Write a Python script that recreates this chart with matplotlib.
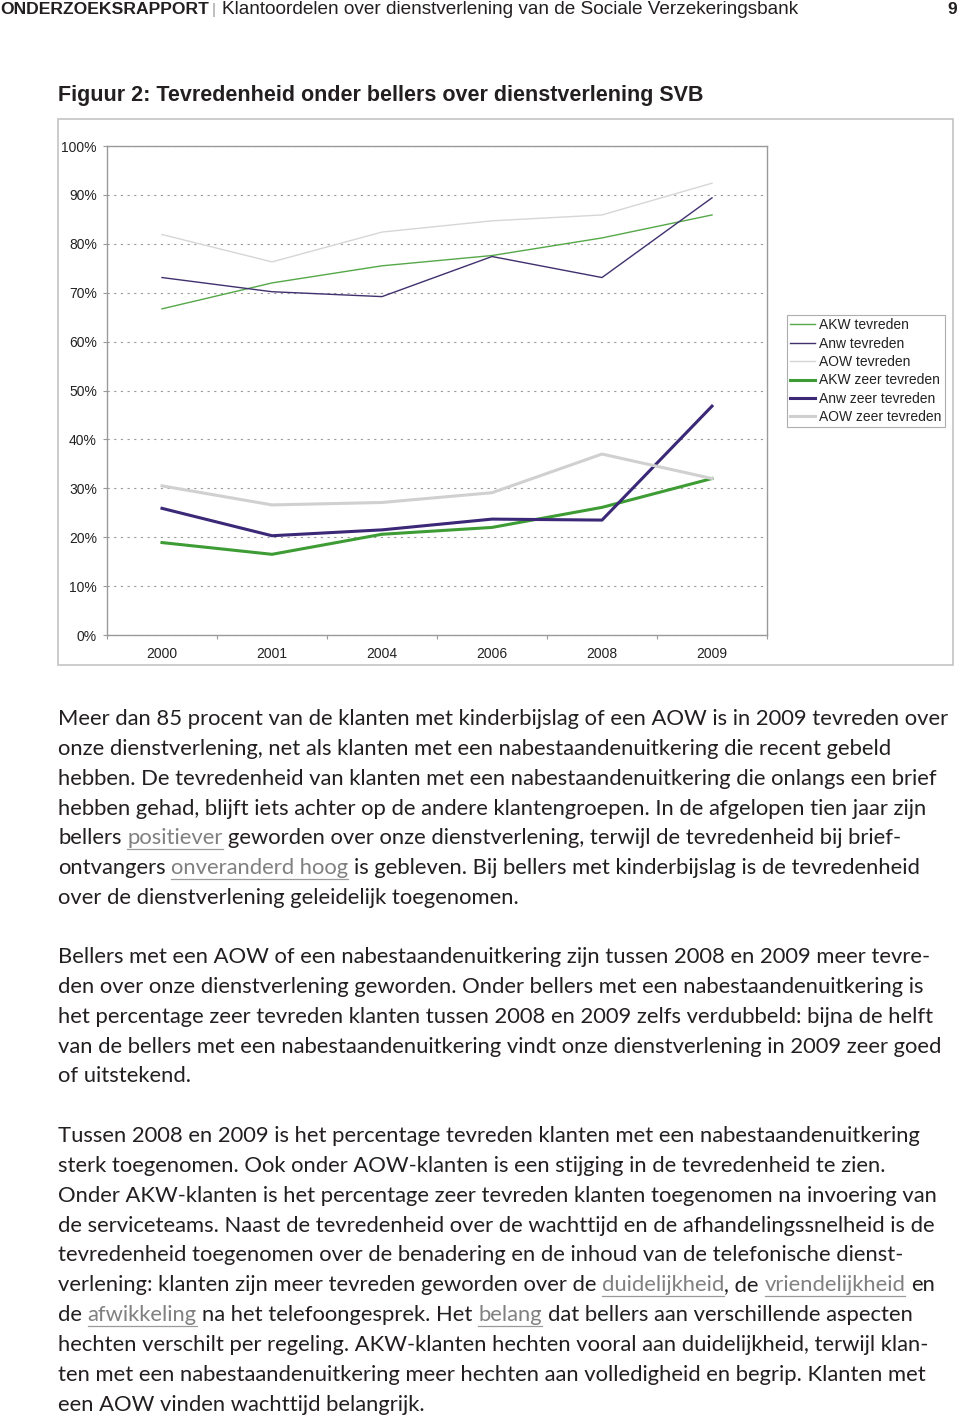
import re
import matplotlib
matplotlib.use('Agg')
import matplotlib.pyplot as plt
from matplotlib.patches import Rectangle
from matplotlib.lines import Line2D
import numpy as np

# ---------------- data ----------------
years = ['2000', '2001', '2004', '2006', '2008', '2009']
akw_tevreden = [66.7, 72.0, 75.5, 77.6, 81.2, 85.9]
anw_tevreden = [73.1, 70.2, 69.2, 77.4, 73.1, 89.4]
aow_tevreden = [81.9, 76.3, 82.4, 84.7, 85.9, 92.4]
akw_zeer_tevreden = [18.9, 16.5, 20.6, 22.0, 26.1, 32.0]
anw_zeer_tevreden = [25.9, 20.3, 21.5, 23.7, 23.5, 46.8]
aow_zeer_tevreden = [30.5, 26.6, 27.1, 29.1, 37.0, 32.0]
series_labels = ['AKW tevreden', 'Anw tevreden', 'AOW tevreden',
                 'AKW zeer tevreden', 'Anw zeer tevreden', 'AOW zeer tevreden']
y_ticks = [0, 10, 20, 30, 40, 50, 60, 70, 80, 90, 100]
y_tick_labels = [f'{v}%' for v in y_ticks]

header_bold = 'ONDERZOEKSRAPPORT'
header_rest = 'Klantoordelen over dienstverlening van de Sociale Verzekeringsbank'
page_number = '9'
figure_title = 'Figuur 2: Tevredenheid onder bellers over dienstverlening SVB'

paragraph1 = [
    'Meer dan 85 procent van de klanten met kinderbijslag of een AOW is in 2009 tevreden over',
    'onze dienstverlening, net als klanten met een nabestaandenuitkering die recent gebeld',
    'hebben. De tevredenheid van klanten met een nabestaandenuitkering die onlangs een brief',
    'hebben gehad, blijft iets achter op de andere klantengroepen. In de afgelopen tien jaar zijn',
    'bellers [positiever] geworden over onze dienstverlening, terwijl de tevredenheid bij brief-',
    'ontvangers [onveranderd hoog] is gebleven. Bij bellers met kinderbijslag is de tevredenheid',
    'over de dienstverlening geleidelijk toegenomen.',
]
paragraph2 = [
    'Bellers met een AOW of een nabestaandenuitkering zijn tussen 2008 en 2009 meer tevre-',
    'den over onze dienstverlening geworden. Onder bellers met een nabestaandenuitkering is',
    'het percentage zeer tevreden klanten tussen 2008 en 2009 zelfs verdubbeld: bijna de helft',
    'van de bellers met een nabestaandenuitkering vindt onze dienstverlening in 2009 zeer goed',
    'of uitstekend.',
]
paragraph3 = [
    'Tussen 2008 en 2009 is het percentage tevreden klanten met een nabestaandenuitkering',
    'sterk toegenomen. Ook onder AOW-klanten is een stijging in de tevredenheid te zien.',
    'Onder AKW-klanten is het percentage zeer tevreden klanten toegenomen na invoering van',
    'de serviceteams. Naast de tevredenheid over de wachttijd en de afhandelingssnelheid is de',
    'tevredenheid toegenomen over de benadering en de inhoud van de telefonische dienst-',
    'verlening: klanten zijn meer tevreden geworden over de [duidelijkheid], de [vriendelijkheid] en',
    'de [afwikkeling] na het telefoongesprek. Het [belang] dat bellers aan verschillende aspecten',
    'hechten verschilt per regeling. AKW-klanten hechten vooral aan duidelijkheid, terwijl klan-',
    'ten met een nabestaandenuitkering meer hechten aan volledigheid en begrip. Klanten met',
    'een AOW vinden wachttijd belangrijk.',
]

# ---------------- figure ----------------
W, H = 960, 1417
fig = plt.figure(figsize=(W / 100, H / 100), dpi=100)
fig.patch.set_facecolor('white')
renderer = fig.canvas.get_renderer()


def fx(x):
    return x / W


def fy(y):
    return 1 - y / H


def put(x, y, s, ha='left', va='center', **kw):
    return fig.text(fx(x), fy(y), s, ha=ha, va=va, **kw)


def width_of(t):
    return t.get_window_extent(renderer=renderer).width


def fit(x, y, s, target_w, ha='left', va='center', **kw):
    t = put(x, y, s, ha=ha, va=va, fontsize=10, **kw)
    w = width_of(t)
    t.set_fontsize(10 * target_w / w)
    return t


NARROW = ['Liberation Sans Narrow', 'Liberation Sans', 'DejaVu Sans']
CHART_FONT = ['Liberation Sans', 'DejaVu Sans']
BODY = dict(family=['Lato', 'DejaVu Sans'], fontweight='normal')
TEXT_COLOR = '#231f20'
LINK_COLOR = '#808080'

# ---- header ----
fit(0, 10, header_bold, 208, family=NARROW, fontweight='bold', color=TEXT_COLOR)
put(214, 10, '|', ha='center', fontsize=11, family=CHART_FONT, color='#9a9a9a')
fit(222, 10, header_rest, 581, family=NARROW, color=TEXT_COLOR)
put(957, 10, page_number, ha='right', fontsize=12.5, family=NARROW, fontweight='bold', color=TEXT_COLOR)

# ---- title ----
fit(58, 96, figure_title, 648, family=NARROW, fontweight='bold', color=TEXT_COLOR)

# ---- outer chart frame ----
fig.add_artist(Rectangle((fx(58), fy(665)), (953 - 58) / W, (665 - 119) / H,
                         transform=fig.transFigure, fill=False,
                         edgecolor='#c4c4c4', lw=1.2))

# ---- chart ----
ax = fig.add_axes([fx(107), fy(635), (767 - 107) / W, (635 - 146) / H])
xs = np.arange(len(years))
thin, thick = 1.0, 2.2
ax.plot(xs, akw_tevreden, color='#55a848', lw=thin, label=series_labels[0])
ax.plot(xs, anw_tevreden, color='#40306e', lw=thin, label=series_labels[1])
ax.plot(xs, aow_tevreden, color='#d6d6d6', lw=thin, label=series_labels[2])
ax.plot(xs, akw_zeer_tevreden, color='#3e9c35', lw=thick, label=series_labels[3])
ax.plot(xs, anw_zeer_tevreden, color='#3b2877', lw=thick, label=series_labels[4])
ax.plot(xs, aow_zeer_tevreden, color='#d0d0d0', lw=thick, label=series_labels[5])

ax.set_xlim(-0.5, len(years) - 0.5)
ax.set_ylim(0, 100)
ax.set_yticks(y_ticks)
ax.set_yticklabels(y_tick_labels, fontsize=10, family=CHART_FONT, color='#222222')
ax.set_xticks(np.arange(-0.5, len(years), 1.0))
ax.set_xticklabels([])
ax.set_xticks(xs, minor=True)
ax.set_xticklabels(years, minor=True, fontsize=10, family=CHART_FONT, color='#222222')
ax.tick_params(axis='y', length=3, width=0.8, color='#999999', pad=4.3)
ax.tick_params(axis='x', which='major', length=3, width=0.8, color='#999999')
ax.tick_params(axis='x', which='minor', length=0, pad=8.8)
ax.grid(axis='y', linestyle=(0, (2, 4)), color='#9a9a9a', lw=0.8, zorder=0)
ax.set_axisbelow(True)
for sp in ax.spines.values():
    sp.set_color('#9a9a9a')
    sp.set_linewidth(1.0)

leg = ax.legend(loc='upper left', bbox_to_anchor=(fx(787), fy(315)),
                bbox_transform=fig.transFigure, frameon=True, fancybox=False,
                edgecolor='#999999', prop={'family': CHART_FONT, 'size': 10},
                handlelength=1.8, handletextpad=0.3, labelspacing=0.32,
                borderpad=0.22, borderaxespad=0)
leg.get_frame().set_linewidth(0.8)
for t in leg.get_texts():
    t.set_color('#222222')

# ---- body text ----
probe = put(58, 719, paragraph1[0], fontsize=10, **BODY)
body_size = 10 * 893 / width_of(probe)
probe.remove()

a = put(0, 0, 'n n', fontsize=body_size, **BODY)
b = put(0, 0, 'nn', fontsize=body_size, **BODY)
space_w = width_of(a) - width_of(b)
a.remove()
b.remove()


def draw_line(x0, y, line):
    x = x0
    for part in re.split(r'(\[[^\]]+\])', line):
        if not part:
            continue
        link = part.startswith('[')
        txt = part.strip('[]')
        lead = len(txt) - len(txt.lstrip(' '))
        trail = len(txt) - len(txt.rstrip(' '))
        core = txt.strip(' ')
        x += lead * space_w
        if core:
            t = put(x, y, core, fontsize=body_size,
                    color=LINK_COLOR if link else TEXT_COLOR, **BODY)
            bb = t.get_window_extent(renderer=renderer)
            if link:
                yl = (bb.y0 - 0.5) / H
                fig.add_artist(Line2D([fx(x), fx(x + bb.width)], [yl, yl],
                                      transform=fig.transFigure,
                                      color='#9a9a9a', lw=0.9))
            x += bb.width
        x += trail * space_w


LINE_GAP = 29.85
for start, para in [(719, paragraph1), (957, paragraph2), (1136, paragraph3)]:
    for k, line in enumerate(para):
        draw_line(58, start + k * LINE_GAP, line)

fig.savefig('out.png', dpi=100)
